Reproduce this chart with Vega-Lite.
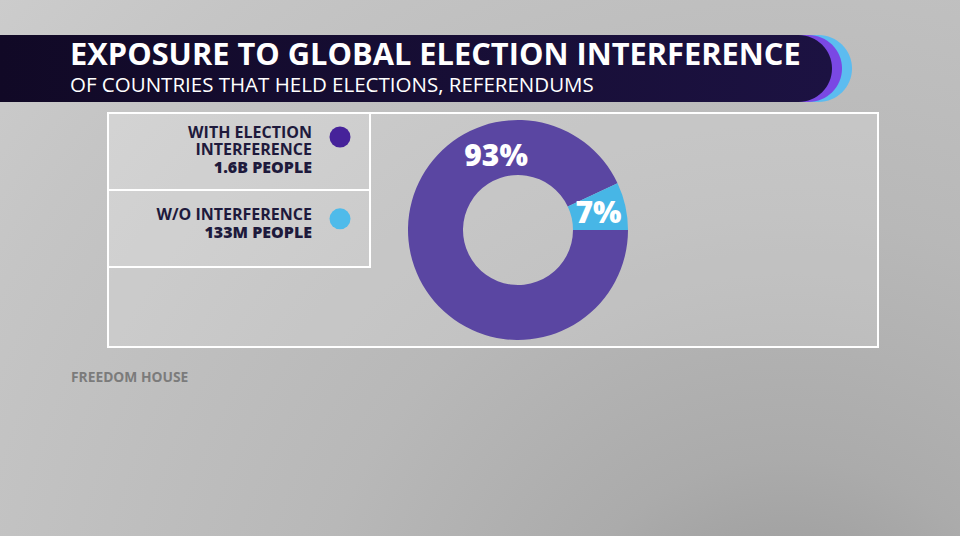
{
  "$schema": "https://vega.github.io/schema/vega-lite/v6.json",
  "background": "#c2c2c2",
  "padding": 0,
  "autosize": {"type": "pad"},
  "bounds": "flush",
  "config": {
    "view": {"stroke": null},
    "font": "Open Sans",
    "text": {"font": "Open Sans"}
  },
  "datasets": {
    "shares": [
      {"key": "with", "label": "WITH ELECTION\nINTERFERENCE", "people": "1.6B PEOPLE", "share": 0.93},
      {"key": "without", "label": "W/O INTERFERENCE", "people": "133M PEOPLE", "share": 0.07}
    ]
  },
  "spacing": 11,
  "vconcat": [
    {
      "width": 744,
      "height": 67,
      "data": {"values": [{}]},
      "title": {
        "text": "EXPOSURE TO GLOBAL ELECTION INTERFERENCE",
        "subtitle": "OF COUNTRIES THAT HELD ELECTIONS, REFERENDUMS",
        "anchor": "start",
        "frame": "group",
        "orient": "top",
        "offset": -97,
        "dx": -38,
        "font": "Open Sans",
        "fontSize": 30.8,
        "fontWeight": 700,
        "color": "#ffffff",
        "subtitleFont": "Open Sans",
        "subtitleFontSize": 20.5,
        "subtitleFontWeight": 400,
        "subtitleColor": "#ffffff",
        "subtitlePadding": 4
      },
      "layer": [
        {
          "mark": {
            "type": "rect",
            "color": {"gradient": "radial", "x1": 0.82, "y1": 0.95, "r1": 0, "x2": 0.82, "y2": 0.95, "r2": 1.2, "stops": [
              {"offset": 0, "color": "#939393"},
              {"offset": 0.21, "color": "#ababab"},
              {"offset": 0.42, "color": "#b8b8b8"},
              {"offset": 0.77, "color": "#c5c5c5"},
              {"offset": 1, "color": "#d0d0d0"}
            ]}
          },
          "encoding": {"x": {"value": -108}, "x2": {"value": 852}, "y": {"value": -35}, "y2": {"value": 501}}
        },
        {
          "mark": {"type": "rect", "color": "#5cbcf0", "cornerRadiusTopRight": 33.5, "cornerRadiusBottomRight": 33.5},
          "encoding": {"x": {"value": -108}, "x2": {"value": 744}}
        },
        {
          "mark": {"type": "rect", "color": "#7a48e4", "cornerRadiusTopRight": 33.5, "cornerRadiusBottomRight": 33.5},
          "encoding": {"x": {"value": -108}, "x2": {"value": 734}}
        },
        {
          "mark": {
            "type": "rect",
            "color": {"gradient": "linear", "x1": 0, "x2": 1, "y1": 0, "y2": 0, "stops": [{"offset": 0, "color": "#110926"}, {"offset": 1, "color": "#1c1242"}]},
            "cornerRadiusTopRight": 33.5,
            "cornerRadiusBottomRight": 33.5
          },
          "encoding": {"x": {"value": -108}, "x2": {"value": 724}}
        }
      ]
    },
    {
      "width": 770,
      "height": 234,
      "view": {"fill": "#ffffff", "fillOpacity": 0.16, "stroke": "#ffffff", "strokeWidth": 2},
      "data": {"name": "shares"},
      "title": {
        "text": "FREEDOM HOUSE",
        "orient": "bottom",
        "anchor": "start",
        "frame": "group",
        "dx": -37,
        "offset": 24,
        "font": "Open Sans",
        "fontSize": 13.8,
        "fontWeight": 700,
        "color": "#7b7b7b"
      },
      "layer": [
        {
          "mark": {"type": "rect", "fill": "#ffffff", "fillOpacity": 0.1, "stroke": "#ffffff", "strokeWidth": 2},
          "encoding": {
            "y": {"field": "key", "type": "nominal", "scale": {"type": "band", "range": [0, 154], "paddingInner": 0, "paddingOuter": 0}, "axis": null},
            "x": {"value": 0},
            "x2": {"value": 262}
          }
        },
        {
          "mark": {"type": "text", "align": "right", "baseline": "middle", "fontSize": 16, "fontWeight": 700, "lineHeight": 17.5, "lineBreak": "\n", "color": "#1e1a3c"},
          "encoding": {
            "y": {"field": "key", "type": "nominal", "scale": {"type": "point", "range": [19.8, 101.8], "padding": 0}, "axis": null},
            "x": {"value": 204},
            "text": {"field": "label"}
          }
        },
        {
          "mark": {"type": "text", "align": "right", "baseline": "middle", "fontSize": 16, "fontWeight": 800, "color": "#1e1a3c"},
          "encoding": {
            "y": {"field": "key", "type": "nominal", "scale": {"type": "point", "range": [54.5, 119.8], "padding": 0}, "axis": null},
            "x": {"value": 204},
            "text": {"field": "people"}
          }
        },
        {
          "mark": {"type": "point", "filled": true, "size": 441, "opacity": 1, "shape": "circle"},
          "encoding": {
            "y": {"field": "key", "type": "nominal", "scale": {"type": "point", "range": [24, 105.8], "padding": 0}, "axis": null},
            "x": {"value": 232},
            "fill": {"field": "key", "type": "nominal", "scale": {"domain": ["with", "without"], "range": ["#46229a", "#4fbbea"]}, "legend": null}
          }
        },
        {
          "mark": {"type": "arc", "innerRadius": 55, "outerRadius": 110},
          "encoding": {
            "theta": {"field": "share", "type": "quantitative", "stack": true, "scale": {"range": [1.131, 7.4142]}},
            "order": {"field": "share", "sort": "ascending"},
            "color": {"field": "key", "type": "nominal", "scale": {"domain": ["with", "without"], "range": ["#5a46a2", "#47b6e6"]}, "legend": null},
            "x": {"value": 410}
          }
        },
        {
          "transform": [{"filter": "datum.key === 'with'"}],
          "mark": {"type": "text", "fontSize": 30, "fontWeight": 800, "color": "#ffffff", "font": "Open Sans"},
          "encoding": {
            "text": {"field": "share", "type": "quantitative", "format": ".0%"},
            "theta": {"value": 5.99},
            "radius": {"value": 76},
            "x": {"value": 410}
          }
        },
        {
          "transform": [{"filter": "datum.key === 'without'"}],
          "mark": {"type": "text", "fontSize": 30, "fontWeight": 800, "color": "#ffffff", "font": "Open Sans"},
          "encoding": {
            "text": {"field": "share", "type": "quantitative", "format": ".0%"},
            "theta": {"value": 1.373},
            "radius": {"value": 82},
            "x": {"value": 410}
          }
        }
      ],
      "resolve": {"scale": {"y": "independent", "color": "independent", "fill": "independent"}}
    }
  ]
}
